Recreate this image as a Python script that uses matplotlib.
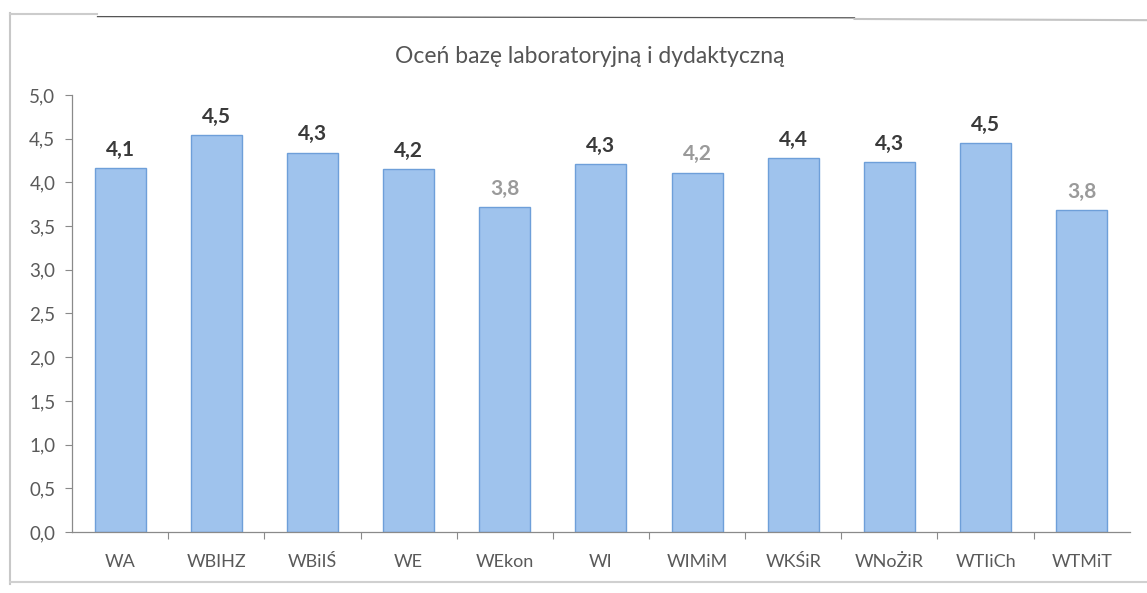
import matplotlib
matplotlib.use("Agg")
import matplotlib.pyplot as plt
from matplotlib.ticker import FuncFormatter, MultipleLocator
from matplotlib.lines import Line2D

#---------- data ----------

categories = ["WA", "WBIHZ", "WBiIŚ", "WE", "WEkon", "WI",
              "WIMiM", "WKŚiR", "WNoŻiR", "WTIiCh", "WTMiT"]

# bar heights as drawn in the (scanned) chart
bar_values = [4.16, 4.54, 4.34, 4.15, 3.72, 4.21, 4.11, 4.28, 4.23, 4.45, 3.68]

# data labels as printed above the bars
bar_labels = ["4,1", "4,5", "4,3", "4,2", "3,8", "4,3", "4,2", "4,4", "4,3", "4,5", "3,8"]

# which labels are printed in light gray instead of dark bold
gray_labels = [False, False, False, False, True, False, True, False, False, False, True]

title = "Oceń bazę laboratoryjną i dydaktyczną"

#---------- figure ----------

plt.rcParams['font.family'] = ['Lato', 'DejaVu Sans']

fig = plt.figure(figsize=(11.47, 5.93), dpi=100)
ax = fig.add_axes([0.0628, 0.1029, 0.9222, 0.7369])

x = range(len(categories))
ax.bar(x, bar_values, width=0.53, color="#9fc3ed", edgecolor="#6e9fd9", linewidth=1.0)

# data labels
for i, (v, lab, g) in enumerate(zip(bar_values, bar_labels, gray_labels)):
    ax.annotate(lab, (i, v), xytext=(0, 6), textcoords="offset points",
                ha="center", va="bottom", fontsize=15,
                fontweight="bold", color="#9a9a9a" if g else "#3a3a3a")

ax.set_xlim(-0.5, len(categories) - 0.5)
ax.set_ylim(0, 5)
ax.yaxis.set_major_locator(MultipleLocator(0.5))
ax.yaxis.set_major_formatter(FuncFormatter(lambda v, p: f"{v:.1f}".replace(".", ",")))

ax.set_xticks(list(x))
ax.set_xticklabels(categories)
ax.set_xticks([i + 0.5 for i in range(len(categories) - 1)], minor=True)

for s in ["top", "right"]:
    ax.spines[s].set_visible(False)
for s in ["left", "bottom"]:
    ax.spines[s].set_color("#8a8a8a")
    ax.spines[s].set_linewidth(0.9)

ax.tick_params(axis="y", length=5, width=0.8, color="#8a8a8a",
               labelsize=13.5, labelcolor="#5a5a5a", pad=7)
ax.tick_params(axis="x", which="major", length=0, labelsize=13,
               labelcolor="#5a5a5a", pad=16)
ax.tick_params(axis="x", which="minor", length=5, width=0.8, color="#8a8a8a")

fig.text(0.514, 0.904, title, ha="center", va="center", fontsize=16.5, color="#555555")

# scanned frame around the chart
fig.add_artist(Line2D([0.009, 0.009], [0.015, 0.978], transform=fig.transFigure,
                      color="#c8c8c8", lw=1.5))
fig.add_artist(Line2D([0.009, 0.085], [0.977, 0.977], transform=fig.transFigure,
                      color="#cccccc", lw=1.5))
fig.add_artist(Line2D([0.085, 0.745], [0.972, 0.970], transform=fig.transFigure,
                      color="#555555", lw=0.9))
fig.add_artist(Line2D([0.745, 1.0], [0.968, 0.966], transform=fig.transFigure,
                      color="#c4c4c4", lw=1.5))
fig.add_artist(Line2D([0.009, 1.0], [0.018, 0.018], transform=fig.transFigure,
                      color="#d0d0d0", lw=1.5))

fig.savefig("out.png", dpi=100)
